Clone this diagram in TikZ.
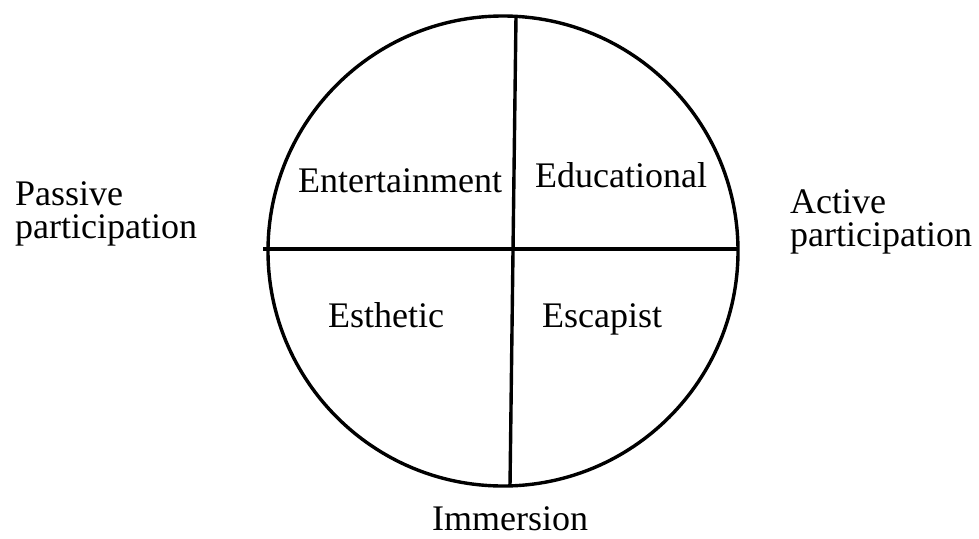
\documentclass[tikz,border=0pt]{standalone}
\usepackage{fontspec}
\setmainfont{Liberation Serif}
\begin{document}
\begin{tikzpicture}[x=1pt,y=-1pt,
  lbl/.style={anchor=base west,inner sep=0pt,font=\fontsize{36}{40}\selectfont},
  ln/.style={line width=3.4pt,black}]
\useasboundingbox (0,0) rectangle (979,538);
\fill[white] (0,0) rectangle (979,538);
\node[circle,draw,line width=3.4pt,minimum size=470pt,inner sep=0pt] (circ) at (503,251) {};
\coordinate (vt) at (516,16);
\coordinate (vb) at (510,486);
\coordinate (hl) at (263,249);
\coordinate (hr) at (738,249);
\draw[ln] (vt) -- (vb);
\draw[ln] (hl) -- (hr);
\node[lbl] (ent) at (298,192) {Entertainment};
\node[lbl] (edu) at (535,187) {Educational};
\node[lbl] (est) at (328,327) {Esthetic};
\node[lbl] (esc) at (542,327) {Escapist};
\node[lbl] (imm) at (432,530) {Immersion};
\node[lbl] (pas1) at (15,205) {Passive};
\node[lbl] (pas2) at (15,238) {participation};
\node[lbl] (act1) at (790,213) {Active};
\node[lbl] (act2) at (790,246) {participation};
\end{tikzpicture}
\end{document}
